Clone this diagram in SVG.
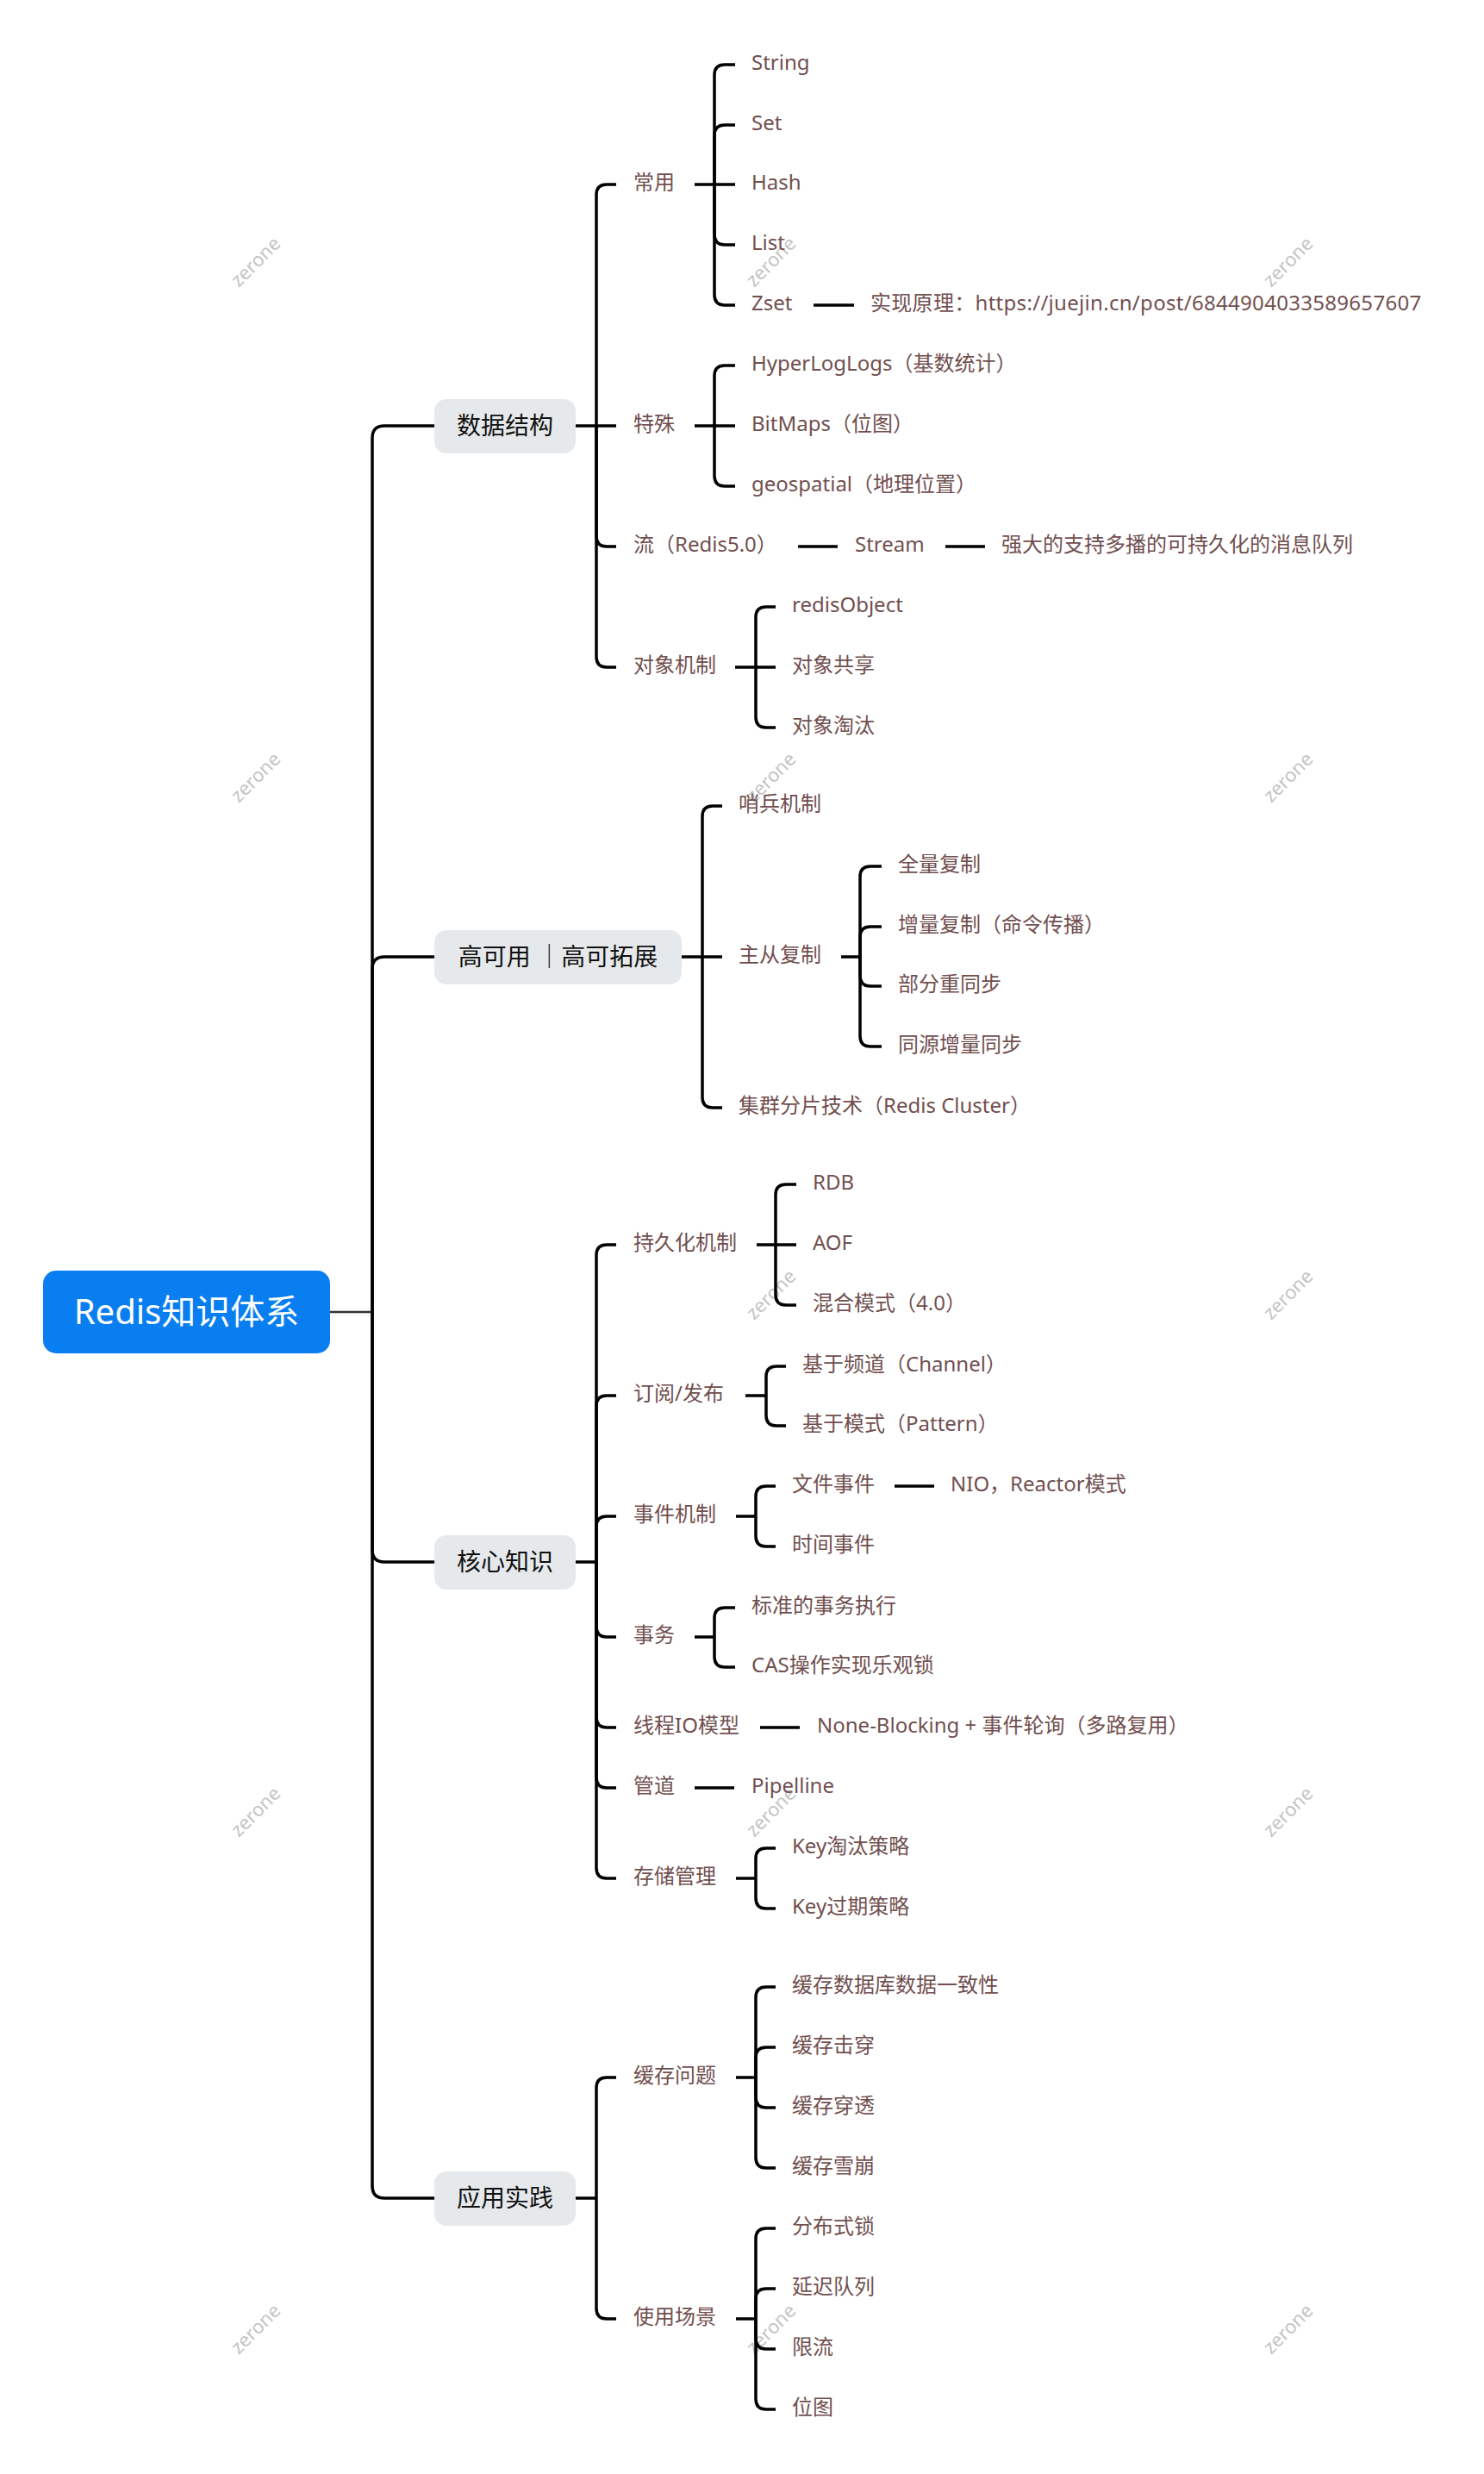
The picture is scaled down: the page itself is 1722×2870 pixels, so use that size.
<svg xmlns="http://www.w3.org/2000/svg" width="1722" height="2870" viewBox="0 0 1722 2870">
<style>
text{font-family:"Noto Sans","Noto Sans CJK SC",sans-serif}
.t{font-size:24px;fill:#714f4f}
.url{letter-spacing:0.3px}
.l1{font-size:28px;fill:#111;text-anchor:middle}
.root{font-size:40px;fill:#fff;text-anchor:middle}
.wm{font-size:22px;fill:#c4c4c4;text-anchor:middle}
.c{fill:none;stroke:#000;stroke-width:3.5}
.box{fill:#e6e9ec}
</style>
<rect width="1722" height="2870" fill="#fff"/>
<g id="watermarks">
<text class="wm" transform="translate(302,309) rotate(-45)">zerone</text>
<text class="wm" transform="translate(900,309) rotate(-45)">zerone</text>
<text class="wm" transform="translate(1500,309) rotate(-45)">zerone</text>
<text class="wm" transform="translate(302,907) rotate(-45)">zerone</text>
<text class="wm" transform="translate(900,907) rotate(-45)">zerone</text>
<text class="wm" transform="translate(1500,907) rotate(-45)">zerone</text>
<text class="wm" transform="translate(302,1507) rotate(-45)">zerone</text>
<text class="wm" transform="translate(900,1507) rotate(-45)">zerone</text>
<text class="wm" transform="translate(1500,1507) rotate(-45)">zerone</text>
<text class="wm" transform="translate(302,2107) rotate(-45)">zerone</text>
<text class="wm" transform="translate(900,2107) rotate(-45)">zerone</text>
<text class="wm" transform="translate(1500,2107) rotate(-45)">zerone</text>
<text class="wm" transform="translate(302,2707) rotate(-45)">zerone</text>
<text class="wm" transform="translate(900,2707) rotate(-45)">zerone</text>
<text class="wm" transform="translate(1500,2707) rotate(-45)">zerone</text>
</g>
<g id="connectors">
<path d="M383,1522 H432" fill="none" stroke="#333" stroke-width="2.5"/>
<path class="c" d="M432,1522 V508 Q432,494 446,494 H504"/>
<path class="c" d="M432,1522 V1124 Q432,1110 446,1110 H504"/>
<path class="c" d="M432,1522 V1798 Q432,1812 446,1812 H504"/>
<path class="c" d="M432,1522 V2536 Q432,2550 446,2550 H504"/>
<path class="c" d="M668,494 H692"/>
<path class="c" d="M692,494 V226 Q692,214 704,214 H715"/>
<path class="c" d="M692,494 H715"/>
<path class="c" d="M692,494 V622 Q692,634 704,634 H715"/>
<path class="c" d="M692,494 V762 Q692,774 704,774 H715"/>
<path class="c" d="M806,214 H829"/>
<path class="c" d="M829,214 V87 Q829,75 841,75 H853"/>
<path class="c" d="M829,214 V157 Q829,145 841,145 H853"/>
<path class="c" d="M829,214 H853"/>
<path class="c" d="M829,214 V272 Q829,284 841,284 H853"/>
<path class="c" d="M829,214 V342 Q829,354 841,354 H853"/>
<path class="c" d="M944,354 H991"/>
<path class="c" d="M806,494 H829"/>
<path class="c" d="M829,494 V436 Q829,424 841,424 H853"/>
<path class="c" d="M829,494 H853"/>
<path class="c" d="M829,494 V552 Q829,564 841,564 H853"/>
<path class="c" d="M926,634 H972"/>
<path class="c" d="M1097,634 H1143"/>
<path class="c" d="M853,774 H877"/>
<path class="c" d="M877,774 V716 Q877,704 889,704 H900"/>
<path class="c" d="M877,774 H900"/>
<path class="c" d="M877,774 V832 Q877,844 889,844 H900"/>
<path class="c" d="M791,1110 H815"/>
<path class="c" d="M815,1110 V947 Q815,935 827,935 H838"/>
<path class="c" d="M815,1110 H838"/>
<path class="c" d="M815,1110 V1273 Q815,1285 827,1285 H838"/>
<path class="c" d="M976,1110 H998"/>
<path class="c" d="M998,1110 V1017 Q998,1005 1010,1005 H1023"/>
<path class="c" d="M998,1110 V1087 Q998,1075 1010,1075 H1023"/>
<path class="c" d="M998,1110 V1132 Q998,1144 1010,1144 H1023"/>
<path class="c" d="M998,1110 V1202 Q998,1214 1010,1214 H1023"/>
<path class="c" d="M668,1812 H692"/>
<path class="c" d="M692,1812 V1456 Q692,1444 704,1444 H715"/>
<path class="c" d="M692,1812 V1631 Q692,1619 704,1619 H715"/>
<path class="c" d="M692,1812 V1771 Q692,1759 704,1759 H715"/>
<path class="c" d="M692,1812 V1887 Q692,1899 704,1899 H715"/>
<path class="c" d="M692,1812 V1992 Q692,2004 704,2004 H715"/>
<path class="c" d="M692,1812 V2062 Q692,2074 704,2074 H715"/>
<path class="c" d="M692,1812 V2167 Q692,2179 704,2179 H715"/>
<path class="c" d="M878,1444 H900"/>
<path class="c" d="M900,1444 V1386 Q900,1374 912,1374 H924"/>
<path class="c" d="M900,1444 H924"/>
<path class="c" d="M900,1444 V1502 Q900,1514 912,1514 H924"/>
<path class="c" d="M865,1619 H889"/>
<path class="c" d="M889,1619 V1597 Q889,1585 901,1585 H912"/>
<path class="c" d="M889,1619 V1642 Q889,1654 901,1654 H912"/>
<path class="c" d="M854,1759 H877"/>
<path class="c" d="M877,1759 V1736 Q877,1724 889,1724 H900"/>
<path class="c" d="M877,1759 V1782 Q877,1794 889,1794 H900"/>
<path class="c" d="M1038,1724 H1084"/>
<path class="c" d="M806,1899 H829"/>
<path class="c" d="M829,1899 V1877 Q829,1865 841,1865 H853"/>
<path class="c" d="M829,1899 V1922 Q829,1934 841,1934 H853"/>
<path class="c" d="M882,2004 H928"/>
<path class="c" d="M806,2074 H852"/>
<path class="c" d="M854,2179 H877"/>
<path class="c" d="M877,2179 V2156 Q877,2144 889,2144 H900"/>
<path class="c" d="M877,2179 V2202 Q877,2214 889,2214 H900"/>
<path class="c" d="M668,2550 H692"/>
<path class="c" d="M692,2550 V2422 Q692,2410 704,2410 H715"/>
<path class="c" d="M692,2550 V2678 Q692,2690 704,2690 H715"/>
<path class="c" d="M854,2410 H877"/>
<path class="c" d="M877,2410 V2317 Q877,2305 889,2305 H900"/>
<path class="c" d="M877,2410 V2387 Q877,2375 889,2375 H900"/>
<path class="c" d="M877,2410 V2433 Q877,2445 889,2445 H900"/>
<path class="c" d="M877,2410 V2503 Q877,2515 889,2515 H900"/>
<path class="c" d="M854,2690 H877"/>
<path class="c" d="M877,2690 V2597 Q877,2585 889,2585 H900"/>
<path class="c" d="M877,2690 V2667 Q877,2655 889,2655 H900"/>
<path class="c" d="M877,2690 V2713 Q877,2725 889,2725 H900"/>
<path class="c" d="M877,2690 V2783 Q877,2795 889,2795 H900"/>
</g>
<g id="root"><rect x="50" y="1474" width="333" height="96" rx="15" fill="#087ef0"/><text class="root" x="216.5" y="1536">Redis知识体系</text></g>
<g id="n-data"><rect class="box" x="504" y="463" width="164" height="63" rx="14"/><text class="l1" x="586" y="504">数据结构</text></g>
<g id="n-ha"><rect class="box" x="504" y="1079" width="287" height="63" rx="14"/><text class="l1" x="647.5" y="1120">高可用 ｜高可拓展</text></g>
<g id="n-core"><rect class="box" x="504" y="1781" width="164" height="63" rx="14"/><text class="l1" x="586" y="1822">核心知识</text></g>
<g id="n-app"><rect class="box" x="504" y="2519" width="164" height="63" rx="14"/><text class="l1" x="586" y="2560">应用实践</text></g>
<g id="leaves">
<g id="n-common"><text class="t" x="735" y="220">常用</text></g>
<g id="n-string"><text class="t" x="872" y="81">String</text></g>
<g id="n-set"><text class="t" x="872" y="151">Set</text></g>
<g id="n-hash"><text class="t" x="872" y="220">Hash</text></g>
<g id="n-list"><text class="t" x="872" y="290">List</text></g>
<g id="n-zset"><text class="t" x="872" y="360">Zset</text></g>
<g id="n-zset-impl"><text class="t url" x="1010" y="360">实现原理：https://juejin.cn/post/6844904033589657607</text></g>
<g id="n-special"><text class="t" x="735" y="500">特殊</text></g>
<g id="n-hll"><text class="t" x="872" y="430">HyperLogLogs（基数统计）</text></g>
<g id="n-bitmaps"><text class="t" x="872" y="500">BitMaps（位图）</text></g>
<g id="n-geo"><text class="t" x="872" y="570">geospatial（地理位置）</text></g>
<g id="n-flow"><text class="t" x="735" y="640">流（Redis5.0）</text></g>
<g id="n-stream"><text class="t" x="992" y="640">Stream</text></g>
<g id="n-stream-desc"><text class="t" x="1162" y="640">强大的支持多播的可持久化的消息队列</text></g>
<g id="n-obj"><text class="t" x="735" y="780">对象机制</text></g>
<g id="n-redisobj"><text class="t" x="919" y="710">redisObject</text></g>
<g id="n-objshare"><text class="t" x="919" y="780">对象共享</text></g>
<g id="n-objevict"><text class="t" x="919" y="850">对象淘汰</text></g>
<g id="n-sentinel"><text class="t" x="857" y="941">哨兵机制</text></g>
<g id="n-repl"><text class="t" x="857" y="1116">主从复制</text></g>
<g id="n-full"><text class="t" x="1042" y="1011">全量复制</text></g>
<g id="n-incr"><text class="t" x="1042" y="1081">增量复制（命令传播）</text></g>
<g id="n-partial"><text class="t" x="1042" y="1150">部分重同步</text></g>
<g id="n-psync"><text class="t" x="1042" y="1220">同源增量同步</text></g>
<g id="n-cluster"><text class="t" x="857" y="1291">集群分片技术（Redis Cluster）</text></g>
<g id="n-persist"><text class="t" x="735" y="1450">持久化机制</text></g>
<g id="n-rdb"><text class="t" x="943" y="1380">RDB</text></g>
<g id="n-aof"><text class="t" x="943" y="1450">AOF</text></g>
<g id="n-mix"><text class="t" x="943" y="1520">混合模式（4.0）</text></g>
<g id="n-pubsub"><text class="t" x="735" y="1625">订阅/发布</text></g>
<g id="n-channel"><text class="t" x="931" y="1591">基于频道（Channel）</text></g>
<g id="n-pattern"><text class="t" x="931" y="1660">基于模式（Pattern）</text></g>
<g id="n-event"><text class="t" x="735" y="1765">事件机制</text></g>
<g id="n-fileev"><text class="t" x="919" y="1730">文件事件</text></g>
<g id="n-nio"><text class="t" x="1103" y="1730">NIO，Reactor模式</text></g>
<g id="n-timeev"><text class="t" x="919" y="1800">时间事件</text></g>
<g id="n-tx"><text class="t" x="735" y="1905">事务</text></g>
<g id="n-txstd"><text class="t" x="872" y="1871">标准的事务执行</text></g>
<g id="n-cas"><text class="t" x="872" y="1940">CAS操作实现乐观锁</text></g>
<g id="n-thread"><text class="t" x="735" y="2010">线程IO模型</text></g>
<g id="n-nonblock"><text class="t" x="948" y="2010">None-Blocking + 事件轮询（多路复用）</text></g>
<g id="n-pipe"><text class="t" x="735" y="2080">管道</text></g>
<g id="n-pipeline"><text class="t" x="872" y="2080">Pipelline</text></g>
<g id="n-storage"><text class="t" x="735" y="2185">存储管理</text></g>
<g id="n-keyevict"><text class="t" x="919" y="2150">Key淘汰策略</text></g>
<g id="n-keyexp"><text class="t" x="919" y="2220">Key过期策略</text></g>
<g id="n-cacheq"><text class="t" x="735" y="2416">缓存问题</text></g>
<g id="n-consist"><text class="t" x="919" y="2311">缓存数据库数据一致性</text></g>
<g id="n-breakdown"><text class="t" x="919" y="2381">缓存击穿</text></g>
<g id="n-penetrate"><text class="t" x="919" y="2451">缓存穿透</text></g>
<g id="n-avalanche"><text class="t" x="919" y="2521">缓存雪崩</text></g>
<g id="n-usage"><text class="t" x="735" y="2696">使用场景</text></g>
<g id="n-lock"><text class="t" x="919" y="2591">分布式锁</text></g>
<g id="n-delayq"><text class="t" x="919" y="2661">延迟队列</text></g>
<g id="n-ratelimit"><text class="t" x="919" y="2731">限流</text></g>
<g id="n-bitmap2"><text class="t" x="919" y="2801">位图</text></g>
</g>
</svg>
